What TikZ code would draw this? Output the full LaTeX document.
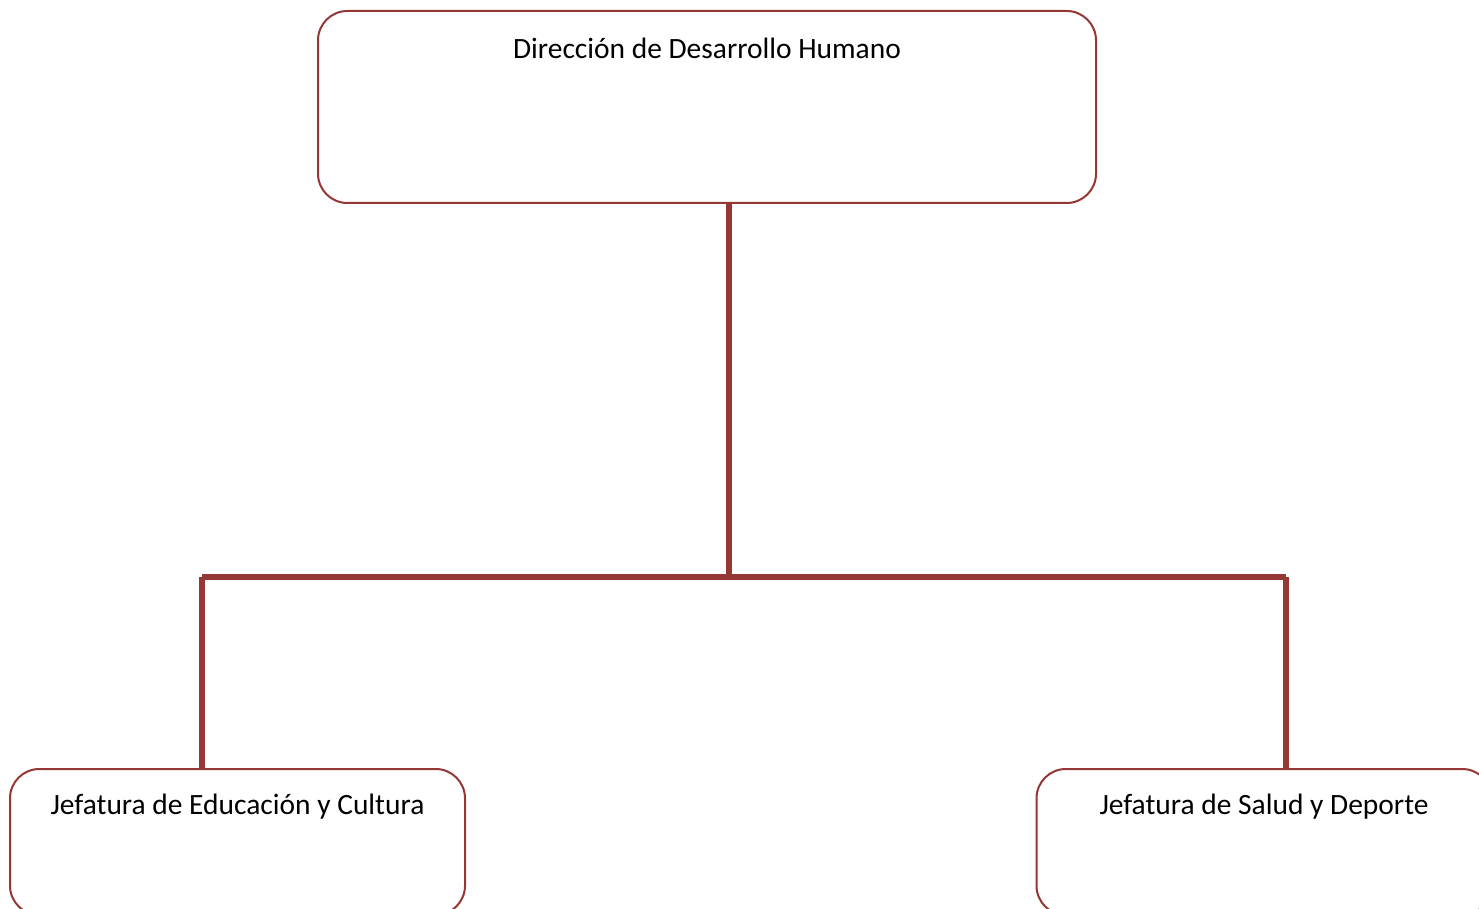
\documentclass[tikz,border=0pt]{standalone}
\usepackage{fontspec}
\setmainfont{Carlito}
\usepackage{tikz}
\definecolor{orgRed}{RGB}{149,55,53}
\newcommand{\boxFont}[0]{\fontsize{22.1}{26}\selectfont}

\begin{document}
\begin{tikzpicture}[x=0.75pt, y=-0.75pt]
  \tikzset{unit box/.style={draw=orgRed, line width=1.5pt, rounded corners=22pt,
                            minimum width=455*0.75pt, minimum height=146*0.75pt},
           unit text/.style={anchor=base, font=\boxFont, inner sep=0pt},
           branch/.style={draw=orgRed, line width=5.2pt}}
  \useasboundingbox (0,0) rectangle (1479,909);
  \node[unit box, minimum width=778*0.75pt, minimum height=192*0.75pt] (dir) at (707,107) {};
  \node[unit text] (dirText) at (707,59) {Dirección de Desarrollo Humano};
  \node[unit box] (edu) at (237.5,842) {};
  \node[unit text] (eduText) at (237.5,814) {Jefatura de Educación y Cultura};
  \node[unit box] (sal) at (1264,842) {};
  \node[unit text] (salText) at (1264,814) {Jefatura de Salud y Deporte};
  % joints of the branches
  \coordinate (hub) at (729,577);
  \coordinate (jl) at (202,577);
  \coordinate (jr) at (1286,577);
  \draw[branch] (dir.south -| hub) -- (hub);
  \draw[branch] (jl) -- (jr);
  \draw[branch] (jl) -- (edu.north -| jl);
  \draw[branch] (jr) -- (sal.north -| jr);
\end{tikzpicture}
\end{document}
